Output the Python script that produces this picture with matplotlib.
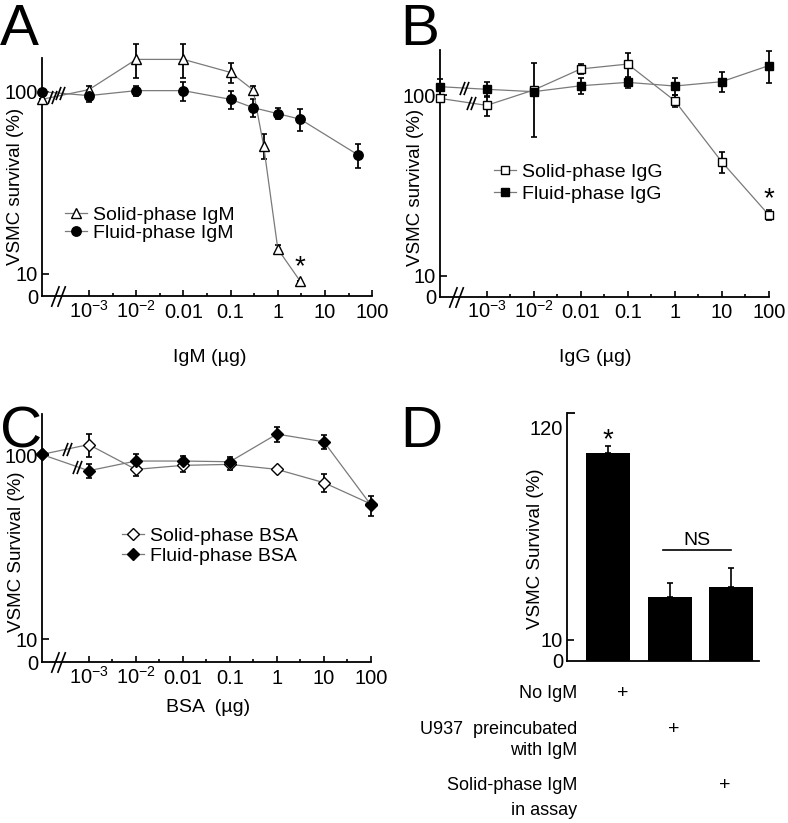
import numpy as np
import matplotlib
matplotlib.use('Agg')
import matplotlib.pyplot as plt
import matplotlib.ticker as ticker
from matplotlib.path import Path

plt.rcParams['font.family'] = ['Liberation Sans', 'DejaVu Sans']
plt.rcParams['mathtext.fontset'] = 'custom'
plt.rcParams['mathtext.rm'] = 'Liberation Sans'
plt.rcParams['mathtext.it'] = 'Liberation Sans:italic'
plt.rcParams['mathtext.bf'] = 'Liberation Sans:bold'

# control (no antibody) sits on the axis origin of the log dose axis
CTRL = 1e-5

# tick positions / labels of the dose axes (labels as printed in the figure)
dose_ticks = [1e-4, 1e-3, 1e-2, 0.1, 1, 10, 100]
dose_labels = ['$10^{-3}$', '$10^{-2}$', '0.01', '0.1', '1', '10', '100']

# panel A - IgM
dose_a_solid = [CTRL, 1e-4, 1e-3, 1e-2, 0.1, 0.3, 0.5, 1, 3]
surv_a_solid = [91, 103, 151, 151, 128, 102.5, 50.7, 13.7, 9.1]
sem_a_solid = [0, 5, 32, 32, 16, 6, 8, 0.8, 0]
dose_a_fluid = [CTRL, 1e-4, 1e-3, 1e-2, 0.1, 0.3, 1, 3, 50]
surv_a_fluid = [100.4, 95.5, 101.7, 101.7, 91.1, 82, 76, 70.8, 45.1]
sem_a_fluid = [0, 7.6, 6.8, 12, 10, 9.5, 5.2, 10, 6.7]

# panel B - IgG
dose_b = [CTRL, 1e-4, 1e-3, 1e-2, 0.1, 1, 10, 100]
surv_b_solid = [96.2, 88.0, 107, 140, 149, 93.4, 42.9, 21.8]
sem_b_solid = [0, 11, 0, 9, 22, 7, 5.5, 1.4]
surv_b_fluid = [111.7, 108, 104.8, 113, 118, 112.6, 119, 146]
sem_b_fluid = [12, 10, 46, 11, 7.5, 12, 15, 29]

# panel C - BSA
dose_c = [CTRL, 1e-4, 1e-3, 1e-2, 0.1, 1, 10, 100]
surv_c_solid = [100.8, 114, 83.6, 87.9, 89, 83.6, 70.8, 54.2]
sem_c_solid = [0, 16, 7, 6.5, 6, 0, 7.8, 0]
surv_c_fluid = [100.8, 82.2, 92.8, 92.8, 92, 130, 118, 53.5]
sem_c_fluid = [0, 7.2, 8.7, 6, 6, 12.5, 10, 6.6]

# panel D - bars
surv_d = [88.7, 16.5, 18.6]
err_d = [8.2, 2.9, 4.5]
cond_rows = [["No IgM"], ["U937  preincubated", "with IgM"], ["Solid-phase IgM", "in assay"]]

W, H = 788, 823
fig = plt.figure(figsize=(W / 100, H / 100), dpi=100)


def box(l, t, r, b):
    return [l / W, 1 - b / H, (r - l) / W, (b - t) / H]


def fpx(x, y):
    return (x / W, 1 - y / H)


# "//" break mark
brk = Path([(-0.68, -1), (0.08, 1), (-0.08, -1), (0.68, 1)],
           [Path.MOVETO, Path.LINETO, Path.MOVETO, Path.LINETO])


def setup(ax, ybot, ytop, spine_top):
    ax.set_xscale('log')
    ax.set_yscale('log')
    ax.set_xlim(CTRL, 100)
    ax.set_ylim(ybot, ytop)
    ax.spines['top'].set_visible(False)
    ax.spines['right'].set_visible(False)
    ax.spines['left'].set_bounds(ybot, spine_top)
    for s in ('left', 'bottom'):
        ax.spines[s].set_linewidth(1.3)
    ax.set_xticks(dose_ticks, dose_labels)
    ax.xaxis.set_minor_locator(ticker.FixedLocator([10 ** (k + 0.5) for k in range(-4, 2)]))
    ax.xaxis.set_minor_formatter(ticker.NullFormatter())
    ax.set_yticks([ybot, 10, 100], ['0', '10', '100'])
    ax.yaxis.set_minor_locator(ticker.NullLocator())
    ax.tick_params(axis='x', which='major', direction='in', length=4, width=1.2, labelsize=14.5, pad=15.5)
    ax.tick_params(axis='x', which='minor', direction='in', length=2.5, width=1.2)
    ax.tick_params(axis='y', direction='in', length=5, width=1.2, labelsize=14.5, pad=2.5)
    for lab in ax.get_xticklabels():
        lab.set_va('baseline')
    ax.yaxis.get_major_ticks()[0].tick1line.set_visible(False)
    # axis break near the origin
    ax.plot([10 ** (-5 + 0.35)], [ybot], marker=brk, ms=15, mec='black', mew=1.2,
            ls='none', clip_on=False, zorder=6)


def curve(ax, dose, surv, sem, marker, face, ms, brk_frac, label):
    ax.errorbar(dose, surv, yerr=sem, fmt='none', ecolor='black', elinewidth=1.3,
                capsize=2.2, capthick=1.2, zorder=3, clip_on=False)
    h, = ax.plot(dose, surv, color='#7a7a7a', lw=0.9, marker=marker, ms=ms,
                 mfc=face, mec='black', mew=1.0, zorder=4, clip_on=False, label=label)
    lx = np.log10(dose[:2])
    ly = np.log10(surv[:2])
    bx = lx[0] + brk_frac * (lx[1] - lx[0])
    by = np.interp(bx, lx, ly)
    ax.plot([10 ** bx], [10 ** by], marker=brk, ms=9.5, mec='black', mew=1.2,
            ls='none', zorder=5, clip_on=False)
    return h


def legend(ax, handles, x, y, spacing):
    ax.legend(handles=handles, loc='center left', bbox_to_anchor=fpx(x, y),
              bbox_transform=fig.transFigure, frameon=False, fontsize=14,
              handlelength=1.15, handletextpad=0.3, labelspacing=spacing,
              borderpad=0, borderaxespad=0)


def labels(ax, xl, xpos, ylab, ypos):
    ax.set_xlabel(xl, fontsize=14)
    ax.xaxis.set_label_coords(*fpx(*xpos), transform=fig.transFigure)
    ax.set_ylabel(ylab, fontsize=13.5)
    ax.yaxis.set_label_coords(*fpx(*ypos), transform=fig.transFigure)
    ax.xaxis.label.set_va('center')
    ax.yaxis.label.set_va('center')


# ---- A
axA = fig.add_axes(box(41.7, 30, 372.3, 296))
setup(axA, 7.57, 219, 154)
h1 = curve(axA, dose_a_solid, surv_a_solid, sem_a_solid, '^', 'white', 7, 0.225, 'Solid-phase IgM')
h2 = curve(axA, dose_a_fluid, surv_a_fluid, sem_a_fluid, 'o', 'black', 6.8, 0.395, 'Fluid-phase IgM')
legend(axA, [h1, h2], 65, 224, 0.02)
axA.annotate('*', xy=(dose_a_solid[-1], surv_a_solid[-1]), xytext=(0, 10), textcoords='offset points',
             ha='center', va='center', fontsize=20)
labels(axA, 'IgM (\u00b5g)', (210, 357), 'VSMC survival (%)', (16, 186))

# ---- B
axB = fig.add_axes(box(439.7, 30, 768.7, 296.7))
setup(axB, 7.68, 230, 178)
h1 = curve(axB, dose_b, surv_b_solid, sem_b_solid, 's', 'white', 6, 0.66, 'Solid-phase IgG')
h2 = curve(axB, dose_b, surv_b_fluid, sem_b_fluid, 's', 'black', 6, 0.52, 'Fluid-phase IgG')
legend(axB, [h1, h2], 494, 183, 0.2)
axB.annotate('*', xy=(dose_b[-1], surv_b_solid[-1]), xytext=(0, 11), textcoords='offset points',
             ha='center', va='center', fontsize=20)
labels(axB, 'IgG (\u00b5g)', (595, 357), 'VSMC survival (%)', (415, 187))

# ---- C
axC = fig.add_axes(box(41.7, 400, 371, 662.3))
setup(axC, 7.5, 199, 168)
h1 = curve(axC, dose_c, surv_c_solid, sem_c_solid, 'D', 'white', 6.5, 0.53, 'Solid-phase BSA')
h2 = curve(axC, dose_c, surv_c_fluid, sem_c_fluid, 'D', 'black', 6.5, 0.745, 'Fluid-phase BSA')
legend(axC, [h1, h2], 121.7, 546, 0.1)
labels(axC, 'BSA  (\u00b5g)', (208, 708), 'VSMC Survival (%)', (17, 552))

# ---- D
axD = fig.add_axes(box(566.7, 413, 759, 661))
ybot = 7.82
axD.set_yscale('log')
axD.set_ylim(ybot, 142)
axD.set_xlim(-0.68, 2.46)
xpos = np.arange(len(surv_d))
axD.bar(xpos, np.array(surv_d) - ybot, bottom=ybot, width=0.72, color='black', zorder=2)
axD.errorbar(xpos, surv_d, yerr=[np.zeros(len(err_d)), err_d], fmt='none', ecolor='black',
             elinewidth=1.2, capsize=2, capthick=1.2, zorder=1)
for s in ('top', 'right'):
    axD.spines[s].set_visible(False)
for s in ('left', 'bottom'):
    axD.spines[s].set_linewidth(1.3)
axD.set_xticks([])
axD.set_yticks([ybot, 10, 120], ['0', '10', '120'])
axD.yaxis.set_minor_locator(ticker.FixedLocator([142]))
axD.yaxis.set_minor_formatter(ticker.NullFormatter())
axD.tick_params(axis='y', which='major', direction='in', length=5, width=1.2, labelsize=14.5, pad=2.5)
axD.tick_params(axis='y', which='minor', direction='in', length=6, width=1.3)
axD.yaxis.get_major_ticks()[0].tick1line.set_visible(False)
axD.yaxis.get_major_ticks()[2].tick1line.set_visible(False)
axD.annotate('*', xy=(0, surv_d[0] + err_d[0]), xytext=(0, 4), textcoords='offset points',
             ha='center', va='center', fontsize=20)
ns_y = (surv_d[2] + err_d[2]) * 1.24
axD.plot([0.9, 2.0], [ns_y, ns_y], color='black', lw=1.2)
axD.annotate('NS', xy=(1.45, ns_y), xytext=(0, 7), textcoords='offset points',
             ha='center', va='center', fontsize=14)
axD.set_ylabel('VSMC Survival (%)', fontsize=13.5, va='center')
axD.yaxis.set_label_coords(*fpx(535, 549), transform=fig.transFigure)

# condition table below panel D
row_y = [[694], [730, 750.7], [785.7, 810.7]]
plus_x = [622.7, 674, 724.7]
for lines, ys, px in zip(cond_rows, row_y, plus_x):
    for txt, yy in zip(lines, ys):
        fig.text(*fpx(577.3, yy), txt, ha='right', va='center', fontsize=13)
    fig.text(*fpx(px, ys[0]), '+', ha='center', va='center', fontsize=14)

# panel letters
for letter, x, y in [('A', 0, 45), ('B', 400, 45), ('C', 0, 447), ('D', 400, 447)]:
    fig.text(*fpx(x, y), letter, fontsize=42, va='baseline', ha='left')

fig.savefig('out.png', dpi=100)
